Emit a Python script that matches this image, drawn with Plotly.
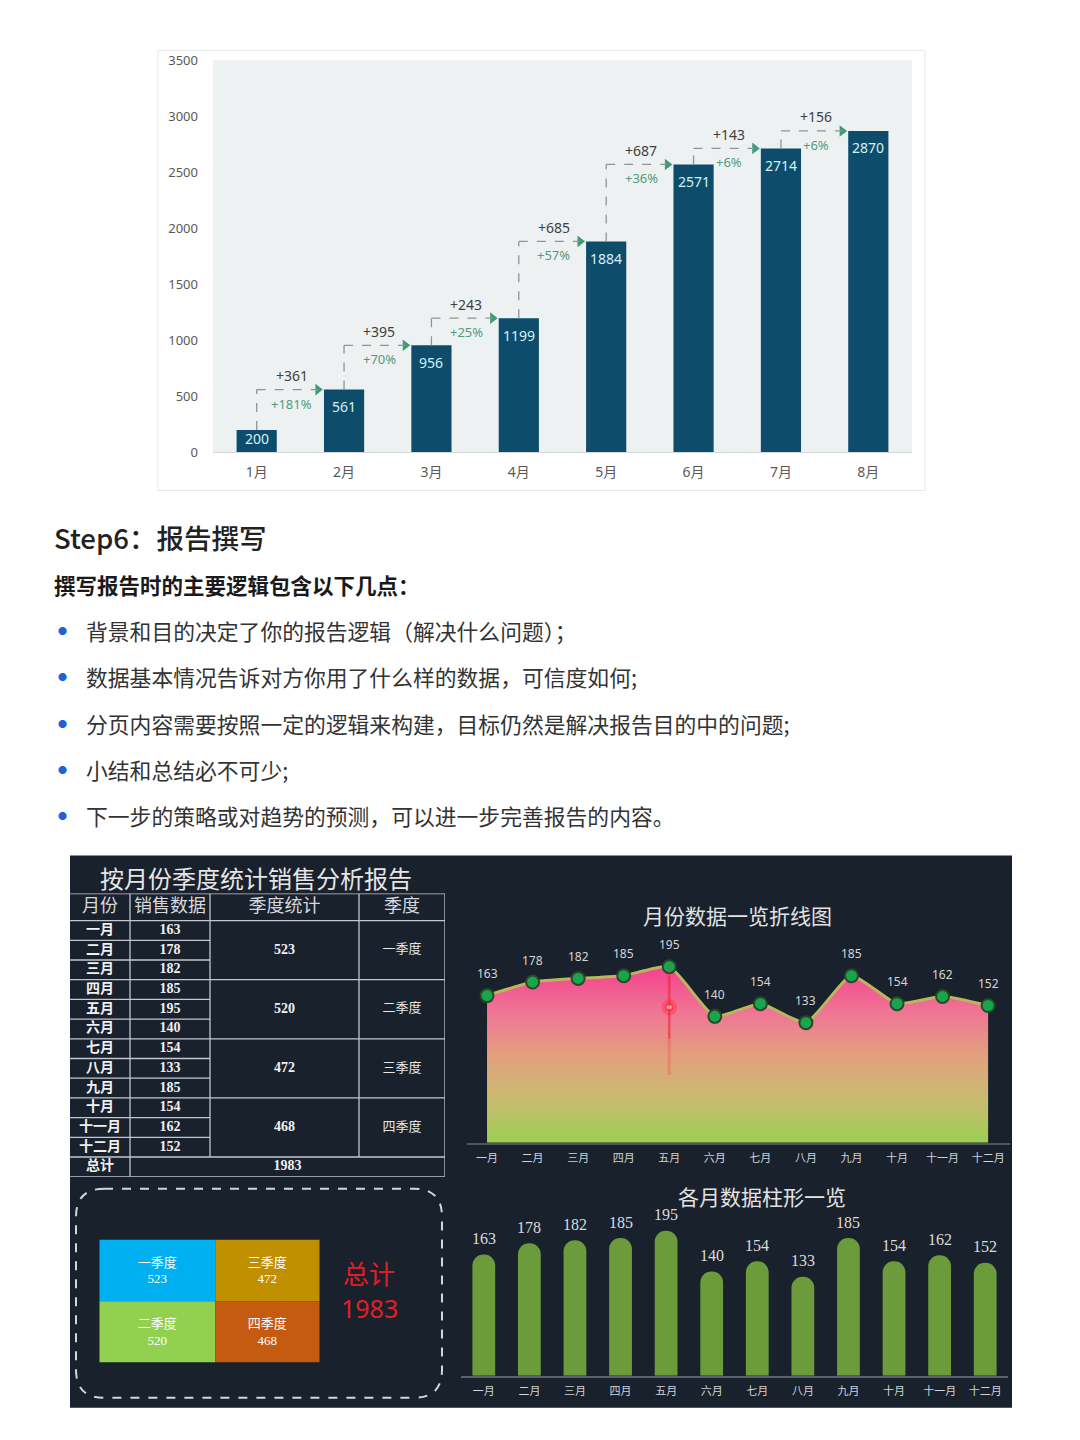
import plotly.graph_objects as go

# page is 1080x1440; the browser adds an 8px body margin, so the figure is 16px smaller
PAGE_W, PAGE_H, BODY_M = 1080, 1440, 8
FW, FH = PAGE_W - 2 * BODY_M, PAGE_H - 2 * BODY_M
# measured vertical mapping of the rendered page (screen_y = Y_OFF + Y_SCALE * figure_y)
Y_OFF, Y_SCALE = 16.7, 0.987

# ---------------- data ----------------
growth_months = ["1月", "2月", "3月", "4月", "5月", "6月", "7月", "8月"]
growth_values = [200, 561, 956, 1199, 1884, 2571, 2714, 2870]
growth_yticks = [0, 500, 1000, 1500, 2000, 2500, 3000, 3500]

heading = "Step6：报告撰写"
subheading = "撰写报告时的主要逻辑包含以下几点："
bullets = [
    "背景和目的决定了你的报告逻辑（解决什么问题）；",
    "数据基本情况告诉对方你用了什么样的数据，可信度如何;",
    "分页内容需要按照一定的逻辑来构建，目标仍然是解决报告目的中的问题;",
    "小结和总结必不可少;",
    "下一步的策略或对趋势的预测，可以进一步完善报告的内容。",
]

months_cn = ["一月", "二月", "三月", "四月", "五月", "六月",
             "七月", "八月", "九月", "十月", "十一月", "十二月"]
monthly_sales = [163, 178, 182, 185, 195, 140, 154, 133, 185, 154, 162, 152]
quarter_names = ["一季度", "二季度", "三季度", "四季度"]
quarter_totals = [523, 520, 472, 468]
quarter_colors = ["#00b0f0", "#92d050", "#bf8f00", "#c55a11"]
grand_total = 1983
total_label = "总计"
table_title = "按月份季度统计销售分析报告"
table_headers = ["月份", "销售数据", "季度统计", "季度"]
line_title = "月份数据一览折线图"
bar_title = "各月数据柱形一览"


def px(x):
    return (x - BODY_M) / FW


def py(y):
    return 1 - ((y - Y_OFF) / Y_SCALE) / FH


CJK = "Noto Sans CJK SC"
SERIF = "Liberation Serif, Noto Sans CJK SC"
SANS = "Noto Sans, Noto Sans CJK SC"

fig = go.Figure()
shapes = []
annotations = []


def note(x, y, text, size, color, family=CJK, xanchor="center", yanchor="middle", weight=None):
    f = dict(size=size, color=color, family=family)
    if weight:
        f["weight"] = weight
    annotations.append(dict(xref="paper", yref="paper", x=px(x), y=py(y), text=text,
                            showarrow=False, xanchor=xanchor, yanchor=yanchor, font=f))


# ================= top growth chart =================
shapes.append(dict(type="rect", xref="paper", yref="paper",
                   x0=px(158), x1=px(925), y0=py(490), y1=py(50),
                   fillcolor="white", line=dict(color="#e4e7e8", width=1), layer="below"))
shapes.append(dict(type="rect", xref="paper", yref="paper",
                   x0=px(213), x1=px(912), y0=py(452), y1=py(60),
                   fillcolor="#eef1f2", line=dict(width=0), layer="below"))

gx = list(range(len(growth_values)))
fig.add_trace(go.Bar(x=gx, y=growth_values, width=0.46,
                     marker=dict(color="#0d4d6b", line=dict(width=0)),
                     xaxis="x", yaxis="y", hoverinfo="skip"))

plot_h = 452 - 60
ymax = growth_yticks[-1]
for i, v in enumerate(growth_values):
    bar_px = v * plot_h / ymax
    annotations.append(dict(xref="x", yref="y", x=i, y=v,
                            yshift=-min(17, bar_px / 2 - 3),
                            xanchor="center", yanchor="middle",
                            text=str(v), showarrow=False,
                            font=dict(size=14, color="#d4f1f7", family=SANS)))

arrow_x, arrow_y = [], []
for i in range(len(growth_values) - 1):
    a, b = growth_values[i], growth_values[i + 1]
    tip = i + 1 - 0.3
    dash_line = dict(color="#8d9597", width=1.3, dash="dash")
    shapes.append(dict(type="line", xref="x", yref="y", x0=i, x1=i, y0=a, y1=b, line=dash_line))
    shapes.append(dict(type="line", xref="x", yref="y", x0=i, x1=tip, y0=b, y1=b, line=dash_line))
    arrow_x.append(tip)
    arrow_y.append(b)
    diff = b - a
    pct = int(diff / a * 100 + 0.5)
    annotations.append(dict(xref="x", yref="y", x=i + 0.4, y=b, yshift=14,
                            xanchor="center", yanchor="middle",
                            text=f"+{diff}", showarrow=False,
                            font=dict(size=14, color="#404040", family=SANS)))
    annotations.append(dict(xref="x", yref="y", x=i + 0.4, y=b, yshift=-14,
                            xanchor="center", yanchor="middle",
                            text=f"+{pct}%", showarrow=False,
                            font=dict(size=13, color="#4e9c80", family=SANS)))

fig.add_trace(go.Scatter(x=arrow_x, y=arrow_y, mode="markers",
                         marker=dict(symbol="triangle-right", size=10, color="#3f9a78"),
                         xaxis="x", yaxis="y", hoverinfo="skip", cliponaxis=False))

# ================= text section =================
note(52, 537, heading, 27.5, "#222222", xanchor="left", weight=500)
note(52, 584, f"<b>{subheading}</b>", 21.5, "#1a1a1a", xanchor="left")
for k, t in enumerate(bullets):
    yy = 630 + k * 46.3
    note(62, yy, "●", 9, "#2160d8")
    note(84, yy, t, 21.8, "#333333", xanchor="left")

# ================= dashboard background =================
DASH_BG = "#19212d"
shapes.append(dict(type="rect", xref="paper", yref="paper",
                   x0=px(70), x1=px(1012), y0=py(1407), y1=py(855),
                   fillcolor=DASH_BG, line=dict(width=0), layer="below"))

# ================= table =================
note(256, 879, table_title, 24, "#e6e6e6", family=SERIF)

col_edges = [70, 130, 210, 359, 445]
col_mid = [(col_edges[j] + col_edges[j + 1]) / 2 for j in range(4)]
n = len(months_cn)
head_top = -1.37
tline = dict(color="#c3c7cf", width=1.3)

shapes.append(dict(type="line", xref="x3", yref="y3", x0=70, x1=445, y0=head_top, y1=head_top, line=tline))
shapes.append(dict(type="line", xref="x3", yref="y3", x0=70, x1=445, y0=0, y1=0, line=tline))
for r in range(1, n):
    xe = 445 if r % 3 == 0 else col_edges[2]
    shapes.append(dict(type="line", xref="x3", yref="y3", x0=70, x1=xe, y0=r, y1=r, line=tline))
shapes.append(dict(type="line", xref="x3", yref="y3", x0=70, x1=445, y0=n, y1=n, line=tline))
shapes.append(dict(type="line", xref="x3", yref="y3", x0=70, x1=445, y0=n + 1, y1=n + 1, line=tline))
shapes.append(dict(type="line", xref="x3", yref="y3", x0=130, x1=130, y0=head_top, y1=n + 1, line=tline))
shapes.append(dict(type="line", xref="x3", yref="y3", x0=210, x1=210, y0=head_top, y1=n, line=tline))
shapes.append(dict(type="line", xref="x3", yref="y3", x0=359, x1=359, y0=head_top, y1=n, line=tline))
shapes.append(dict(type="line", xref="x3", yref="y3", x0=445, x1=445, y0=head_top, y1=n + 1, line=tline))

fig.add_trace(go.Scatter(x=col_mid, y=[head_top / 2] * 4, text=table_headers, mode="text",
                         textfont=dict(size=18, color="#d6d8dc", family=SERIF),
                         xaxis="x3", yaxis="y3", hoverinfo="skip", cliponaxis=False))
fig.add_trace(go.Scatter(x=[col_mid[0]] * n, y=[r + 0.5 for r in range(n)],
                         text=[f"<b>{m}</b>" for m in months_cn], mode="text",
                         textfont=dict(size=14, color="#f0f0f0", family=SERIF),
                         xaxis="x3", yaxis="y3", hoverinfo="skip", cliponaxis=False))
fig.add_trace(go.Scatter(x=[col_mid[1]] * n, y=[r + 0.5 for r in range(n)],
                         text=[f"<b>{v}</b>" for v in monthly_sales], mode="text",
                         textfont=dict(size=14, color="#f0f0f0", family=SERIF),
                         xaxis="x3", yaxis="y3", hoverinfo="skip", cliponaxis=False))
fig.add_trace(go.Scatter(x=[col_mid[2]] * 4, y=[3 * q + 1.5 for q in range(4)],
                         text=[f"<b>{v}</b>" for v in quarter_totals], mode="text",
                         textfont=dict(size=14, color="#f0f0f0", family=SERIF),
                         xaxis="x3", yaxis="y3", hoverinfo="skip", cliponaxis=False))
fig.add_trace(go.Scatter(x=[col_mid[3]] * 4, y=[3 * q + 1.5 for q in range(4)],
                         text=quarter_names, mode="text",
                         textfont=dict(size=13, color="#e6e6e6", family=SERIF),
                         xaxis="x3", yaxis="y3", hoverinfo="skip", cliponaxis=False))
fig.add_trace(go.Scatter(x=[col_mid[0], (130 + 445) / 2], y=[n + 0.5, n + 0.5],
                         text=[f"<b>{total_label}</b>", f"<b>{grand_total}</b>"], mode="text",
                         textfont=dict(size=14, color="#f0f0f0", family=SERIF),
                         xaxis="x3", yaxis="y3", hoverinfo="skip", cliponaxis=False))

# ================= treemap box =================
L, R, T, B = px(76), px(442), py(1188), py(1397)
rx, ry = 28 / FW, 28 / Y_SCALE / FH
path = (f"M {L+rx},{T} L {R-rx},{T} Q {R},{T} {R},{T-ry} L {R},{B+ry} "
        f"Q {R},{B} {R-rx},{B} L {L+rx},{B} Q {L},{B} {L},{B+ry} L {L},{T-ry} "
        f"Q {L},{T} {L+rx},{T} Z")
shapes.append(dict(type="path", xref="paper", yref="paper", path=path,
                   line=dict(color="#d4d6da", width=2, dash="dash")))

fig.add_trace(go.Treemap(
    labels=quarter_names, parents=[""] * len(quarter_names), values=quarter_totals,
    domain=dict(x=[px(93), px(326)], y=[py(1368), py(1213)]),
    marker=dict(colors=quarter_colors, line=dict(width=0)),
    tiling=dict(pad=0, packing="squarify"), sort=False,
    texttemplate="%{label}<br>%{value}", textposition="middle center",
    textfont=dict(size=13, color="white", family=SERIF),
    insidetextfont=dict(size=13, color="white", family=SERIF),
    hoverinfo="skip", pathbar=dict(visible=False)))

note(369, 1272, total_label, 26, "#e31e24")
note(369, 1307, str(grand_total), 25, "#e31e24", family=SANS)

# ================= line chart =================
note(737, 914, line_title, 21, "#e2e2e2")

fig.add_trace(go.Scatter(
    x=months_cn, y=monthly_sales, mode="lines+markers",
    line=dict(color="#b9b65c", width=3, shape="spline", smoothing=0.5),
    fill="tozeroy",
    fillgradient=dict(type="vertical", start=0, stop=max(monthly_sales),
                      colorscale=[[0, "#98d050"], [0.25, "#c8bc70"], [0.5, "#e3a07e"],
                                  [0.75, "#f07495"], [1, "#f4428c"]]),
    marker=dict(size=13, color="#19a64b", line=dict(color="#27482d", width=2)),
    xaxis="x4", yaxis="y4", hoverinfo="skip", cliponaxis=False))

# glare on the peak month
peak = monthly_sales.index(max(monthly_sales))
shapes.append(dict(type="line", xref="x4", yref="y4", x0=peak, x1=peak,
                   y0=75, y1=max(monthly_sales),
                   line=dict(color="rgba(240,30,50,0.22)", width=3)))
shapes.append(dict(type="line", xref="x4", yref="y4", x0=peak, x1=peak,
                   y0=115, y1=185,
                   line=dict(color="rgba(245,25,45,0.45)", width=2)))
fig.add_trace(go.Scatter(x=[months_cn[peak]], y=[150], mode="markers",
                         marker=dict(size=16, color="rgba(255,40,60,0.35)", line=dict(width=0)),
                         xaxis="x4", yaxis="y4", hoverinfo="skip"))
fig.add_trace(go.Scatter(x=[months_cn[peak]], y=[150], mode="markers",
                         marker=dict(size=6, color="#fff0f0",
                                     line=dict(color="rgba(255,30,50,0.7)", width=2)),
                         xaxis="x4", yaxis="y4", hoverinfo="skip"))

for m, v in zip(months_cn, monthly_sales):
    annotations.append(dict(xref="x4", yref="y4", x=m, y=v, yshift=22,
                            xanchor="center", yanchor="middle",
                            text=str(v), showarrow=False,
                            font=dict(size=12, color="#d6d6d6", family=SANS)))

# ================= bar chart =================
note(762, 1197, bar_title, 21, "#e2e2e2", family=SERIF)

fig.add_trace(go.Bar(x=months_cn, y=monthly_sales, width=0.5,
                     marker=dict(color="#6b9b3b", line=dict(width=0), cornerradius="50%"),
                     xaxis="x5", yaxis="y5", hoverinfo="skip"))
for m, v in zip(months_cn, monthly_sales):
    annotations.append(dict(xref="x5", yref="y5", x=m, y=v, yshift=16,
                            xanchor="center", yanchor="middle",
                            text=str(v), showarrow=False,
                            font=dict(size=16, color="#dcdcdc", family=SERIF)))

# ================= layout =================
fig.update_layout(
    width=FW, height=FH, autosize=False,
    margin=dict(l=0, r=0, t=0, b=0),
    paper_bgcolor="white", plot_bgcolor="rgba(0,0,0,0)",
    showlegend=False,
    font=dict(family=CJK),
    shapes=shapes, annotations=annotations,
    xaxis=dict(domain=[px(213), px(912)], range=[-0.5, 7.5], tickvals=gx, ticktext=growth_months,
               showline=True, linecolor="#d3d8d9", linewidth=1, showgrid=False, zeroline=False,
               ticks="", tickfont=dict(size=14, color="#595959", family=SANS),
               ticklabelstandoff=7, anchor="y", fixedrange=True),
    yaxis=dict(domain=[py(452), py(60)], range=[0, ymax], tickvals=growth_yticks,
               showgrid=False, zeroline=False, showline=False, ticks="",
               tickfont=dict(size=13, color="#595959", family=SANS),
               ticklabelstandoff=14, anchor="x", fixedrange=True),
    xaxis3=dict(domain=[px(70), px(445)], range=[70, 445], visible=False, anchor="y3"),
    yaxis3=dict(domain=[py(1176), py(893)], range=[n + 1, head_top], visible=False, anchor="x3"),
    xaxis4=dict(domain=[px(467), px(1010)], range=[-0.44, 11.48], type="category",
                showline=True, linecolor="#4d5563", linewidth=1.5, showgrid=False, zeroline=False,
                ticks="", tickfont=dict(size=11, color="#cfd3da", family=CJK),
                ticklabelstandoff=4, anchor="y4"),
    yaxis4=dict(domain=[py(1142), py(948)], range=[0, 215], visible=False, anchor="x4"),
    xaxis5=dict(domain=[px(461), px(1008)], range=[-0.5, 11.5], type="category",
                showline=True, linecolor="#596170", linewidth=2, showgrid=False, zeroline=False,
                ticks="", tickfont=dict(size=11, color="#cfd3da", family=CJK),
                ticklabelstandoff=4, anchor="y5"),
    yaxis5=dict(domain=[py(1375), py(1189)], range=[0, 250], visible=False, anchor="x5"),
)

fig.write_html("out.html")
